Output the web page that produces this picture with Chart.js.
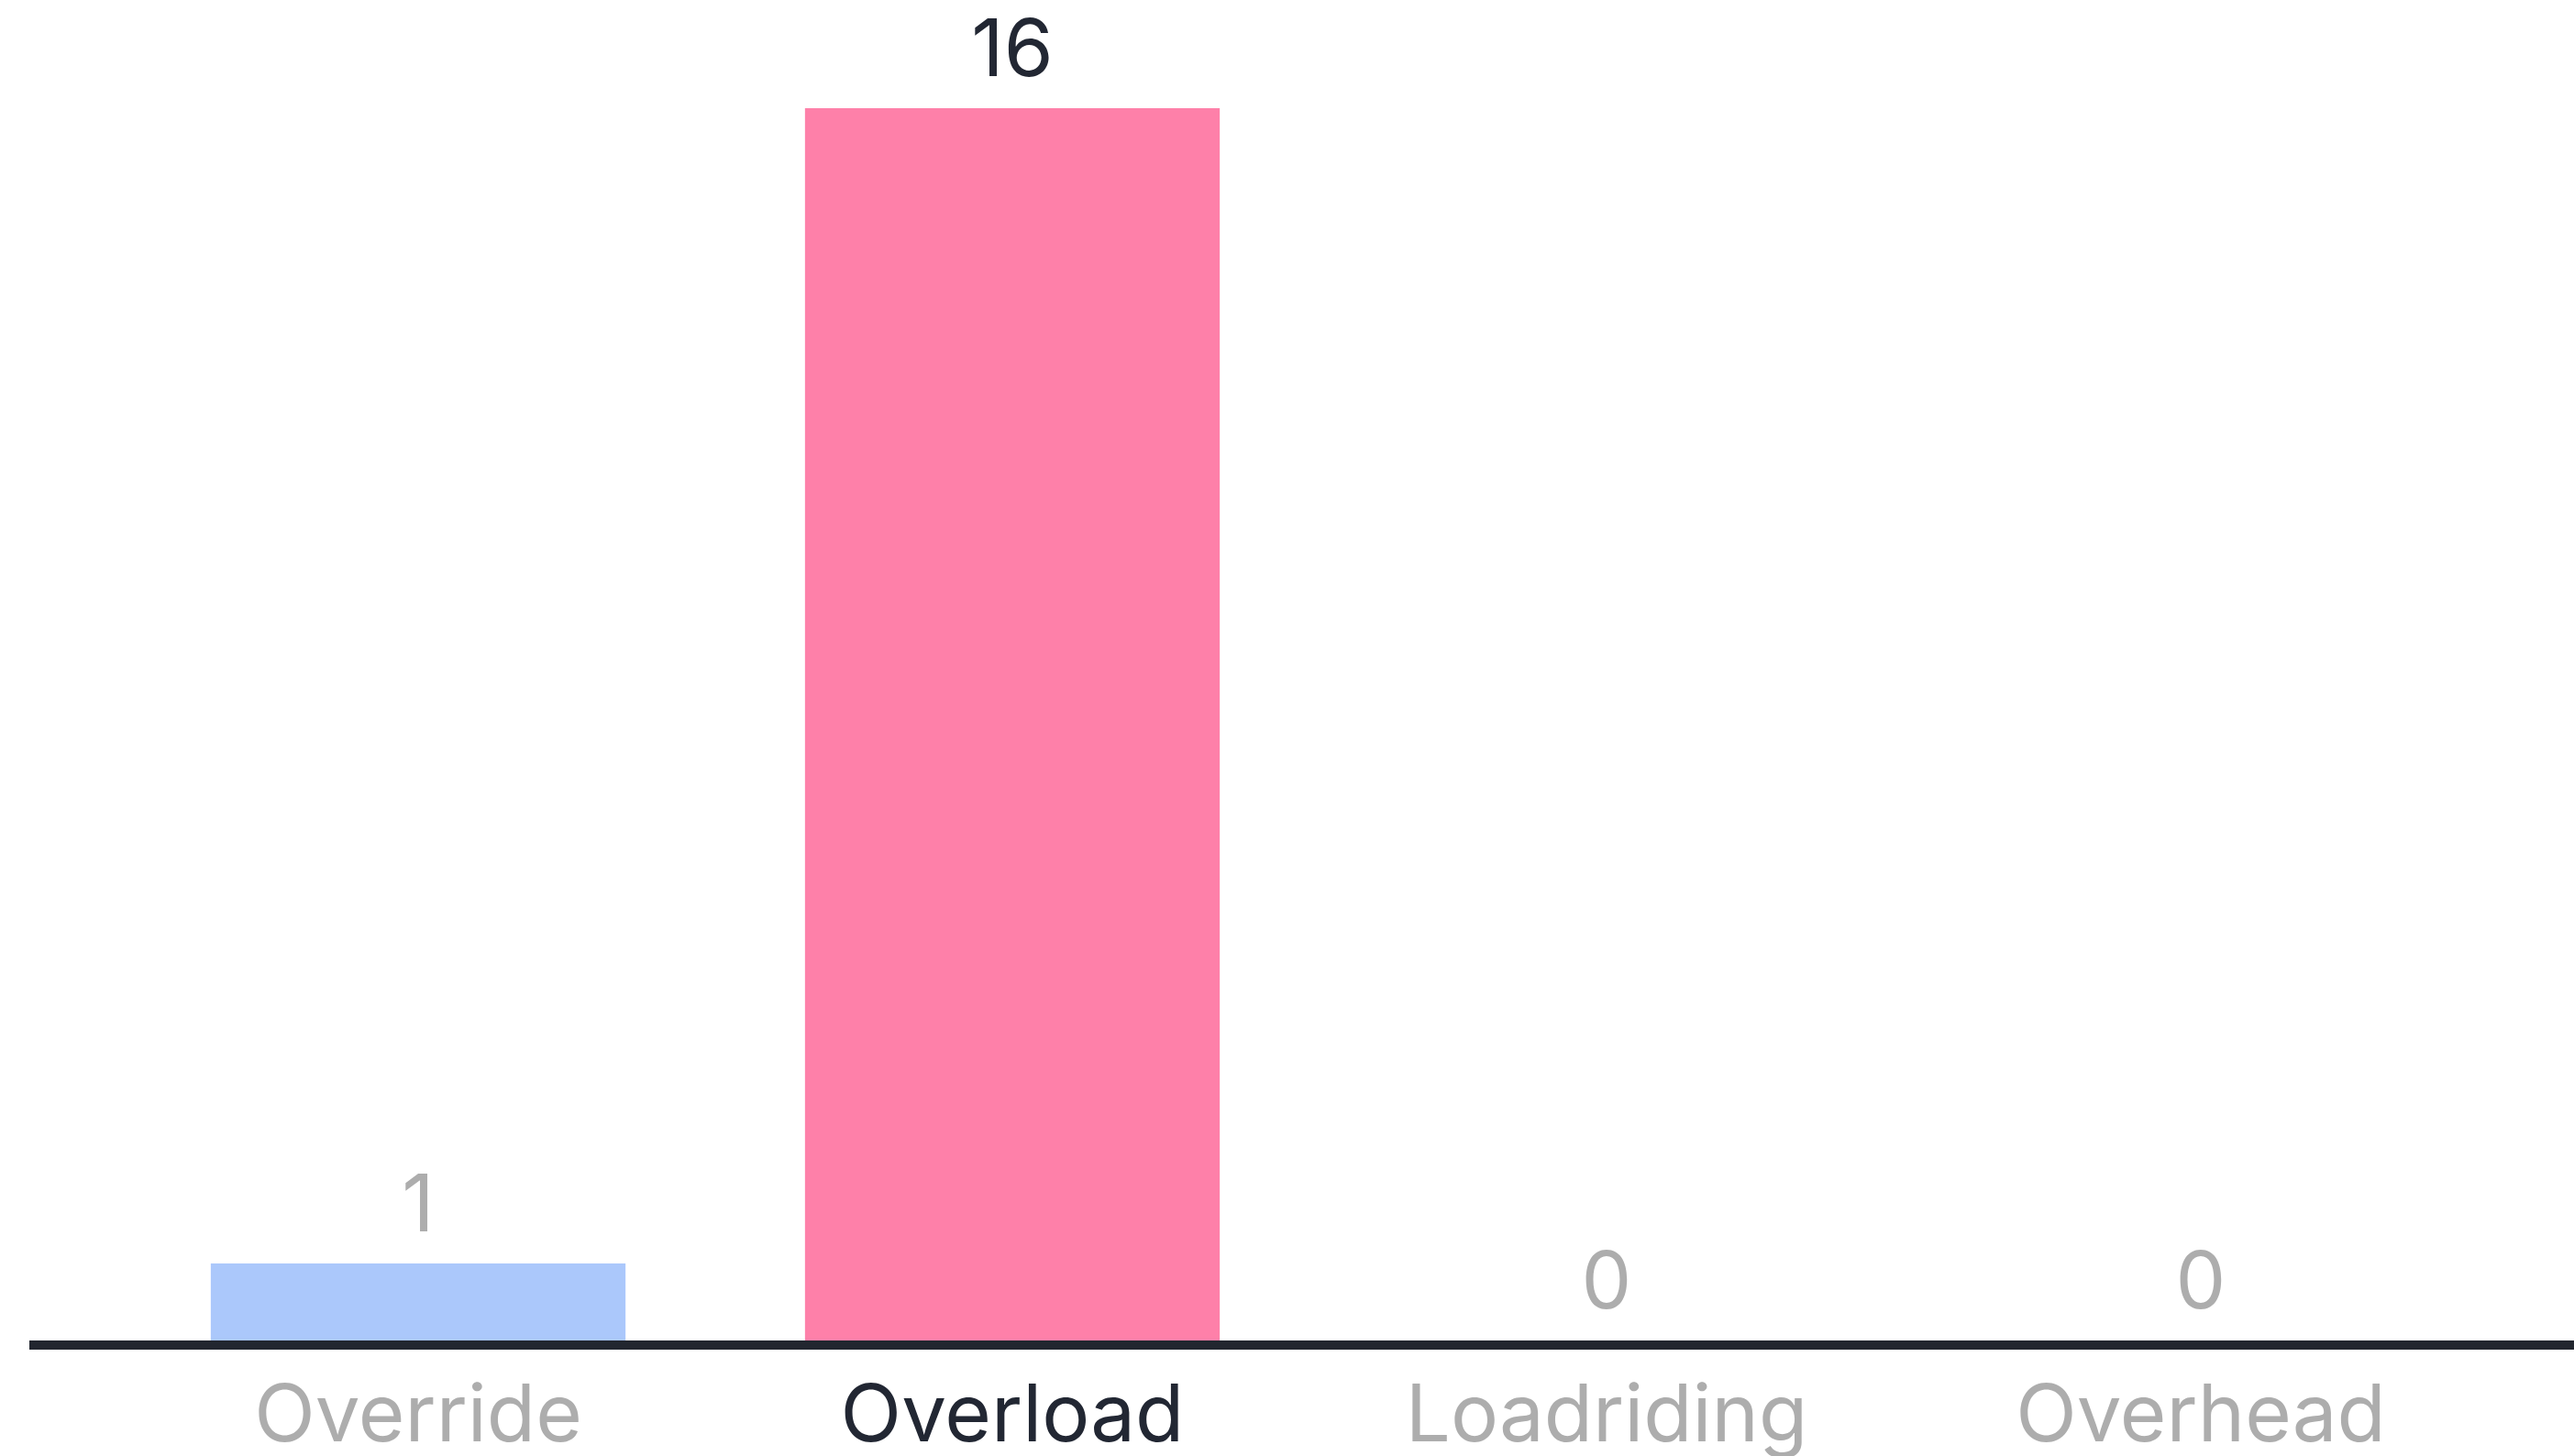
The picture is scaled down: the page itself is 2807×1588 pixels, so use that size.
<!DOCTYPE html>
<html>
<head>
<meta charset="utf-8">
<script src="https://cdn.jsdelivr.net/npm/chart.js@4/dist/chart.umd.min.js"></script>
<style>
  html, body { margin: 0; padding: 0; background: #ffffff; }
  #wrap { width: 2807px; height: 1588px; }
</style>
</head>
<body>
<div id="wrap"><canvas id="barChart" width="2807" height="1588"></canvas></div>
<script>
// chart data
const categories = ['Override', 'Overload', 'Loadriding', 'Overhead'];
const counts = [1, 16, 0, 0];

// look
const barColours = ['#abc8fb', '#fe80a9', '#d9d9d9', '#d9d9d9'];
const darkText = '#222733';
const greyText = '#adadad';
const fontFamily = 'Inter, Lato, "Noto Sans", sans-serif';

// the biggest bar gets the dark label
const maxIndex = counts.indexOf(Math.max(...counts));
const textColour = i => (i === maxIndex ? darkText : greyText);

// value labels above the bars + the long baseline
const valueLabels = {
    id: 'valueLabels',
    afterDatasetsDraw(chart) {
        const ctx = chart.ctx;
        const meta = chart.getDatasetMeta(0);
        const area = chart.chartArea;

        // baseline runs across nearly the whole canvas
        ctx.save();
        ctx.strokeStyle = '#22262f';
        ctx.lineWidth = 10;
        ctx.beginPath();
        ctx.moveTo(32, area.bottom + 5);
        ctx.lineTo(chart.width, area.bottom + 5);
        ctx.stroke();

        ctx.font = `400 87px ${fontFamily}`;
        ctx.textAlign = 'center';
        ctx.textBaseline = 'alphabetic';
        meta.data.forEach((bar, i) => {
            ctx.fillStyle = textColour(i);
            ctx.fillText(String(counts[i]), bar.x, bar.y - 35);
        });
        ctx.restore();
    }
};

const ctx = document.getElementById('barChart').getContext('2d');
new Chart(ctx, {
    type: 'bar',
    data: {
        labels: categories,
        datasets: [{
            data: counts,
            backgroundColor: barColours,
            borderWidth: 0,
            barPercentage: 0.698,
            categoryPercentage: 1.0
        }]
    },
    options: {
        responsive: false,
        animation: false,
        layout: {
            padding: { top: 118, left: 132, right: 83, bottom: 0 }
        },
        scales: {
            x: {
                grid: { display: false, drawTicks: false },
                border: { display: false },
                ticks: {
                    padding: 40,
                    color: ctx => textColour(ctx.index),
                    font: { family: fontFamily, size: 87, weight: '400', lineHeight: 1.0 },
                    maxRotation: 0,
                    autoSkip: false
                },
                // fixed band under the bars for the category names
                afterFit: scale => { scale.height = 126; }
            },
            y: {
                display: false,
                min: 0,
                max: 16
            }
        },
        plugins: {
            legend: { display: false },
            tooltip: { enabled: false }
        }
    },
    plugins: [valueLabels]
});
</script>
</body>
</html>
